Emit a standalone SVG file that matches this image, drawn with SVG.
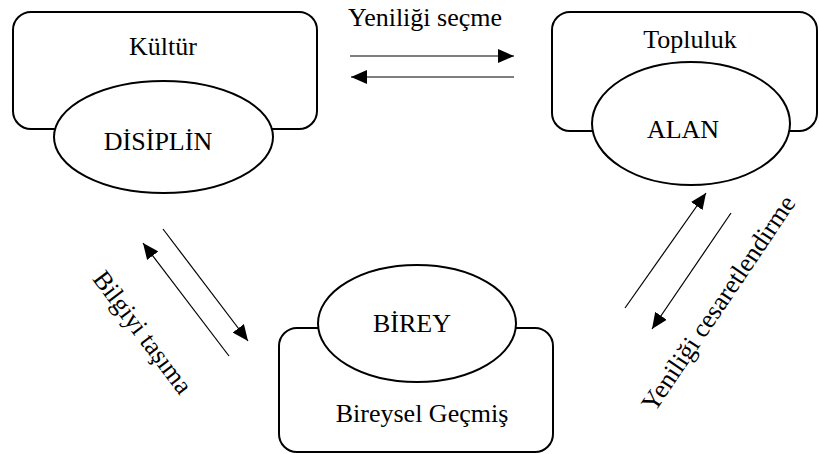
<svg xmlns="http://www.w3.org/2000/svg" width="819" height="454" viewBox="0 0 819 454">
<style>
.box{fill:#fff;stroke:#000;stroke-width:2}
.ell{fill:#fff;stroke:#000;stroke-width:2}
.t{font-family:'Liberation Serif','Times New Roman','DejaVu Serif',serif;font-size:26px;fill:#000;text-anchor:middle}
.ln{stroke:#000;stroke-width:1.2;fill:none;marker-end:url(#ah)}
</style>
<defs>
<marker id="ah" viewBox="0 0 16 14" refX="16" refY="7" markerWidth="16" markerHeight="14" markerUnits="userSpaceOnUse" orient="auto">
<path d="M0,0 L16,7 L0,14 z" fill="#000"/>
</marker>
</defs>
<rect width="819" height="454" fill="#fff"/>
<g id="kultur">
<rect class="box" x="13" y="12" width="304" height="117" rx="18"/>
<text class="t" x="163" y="55">Kültür</text>
<ellipse class="ell" cx="163.5" cy="137" rx="109.5" ry="56"/>
<text class="t" x="158" y="150">DİSİPLİN</text>
</g>
<g id="topluluk">
<rect class="box" x="552" y="12" width="265" height="119" rx="18"/>
<text class="t" x="690" y="48">Topluluk</text>
<ellipse class="ell" cx="691" cy="123.5" rx="99" ry="61.5"/>
<text class="t" x="683" y="138">ALAN</text>
</g>
<g id="birey">
<rect class="box" x="279" y="328" width="274" height="124" rx="18"/>
<ellipse class="ell" cx="417" cy="323.5" rx="99" ry="58.5"/>
<text class="t" x="412" y="332">BİREY</text>
<text class="t" x="422" y="422">Bireysel Geçmiş</text>
</g>
<g id="connectors">
<line class="ln" x1="350" y1="56" x2="514" y2="56"/>
<line class="ln" x1="514" y1="77" x2="351" y2="77"/>
<line class="ln" x1="163" y1="229" x2="248" y2="341"/>
<line class="ln" x1="229" y1="356" x2="143" y2="243"/>
<line class="ln" x1="625" y1="308" x2="706" y2="193"/>
<line class="ln" x1="731" y1="213" x2="652" y2="329"/>
<text class="t" x="425" y="26">Yeniliği seçme</text>
<text class="t" transform="translate(143,332) rotate(53)" x="0" y="9">Bilgiyi taşıma</text>
<text class="t" transform="translate(718,303) rotate(-56)" x="0" y="9">Yeniliği cesaretlendirme</text>
</g>
</svg>
